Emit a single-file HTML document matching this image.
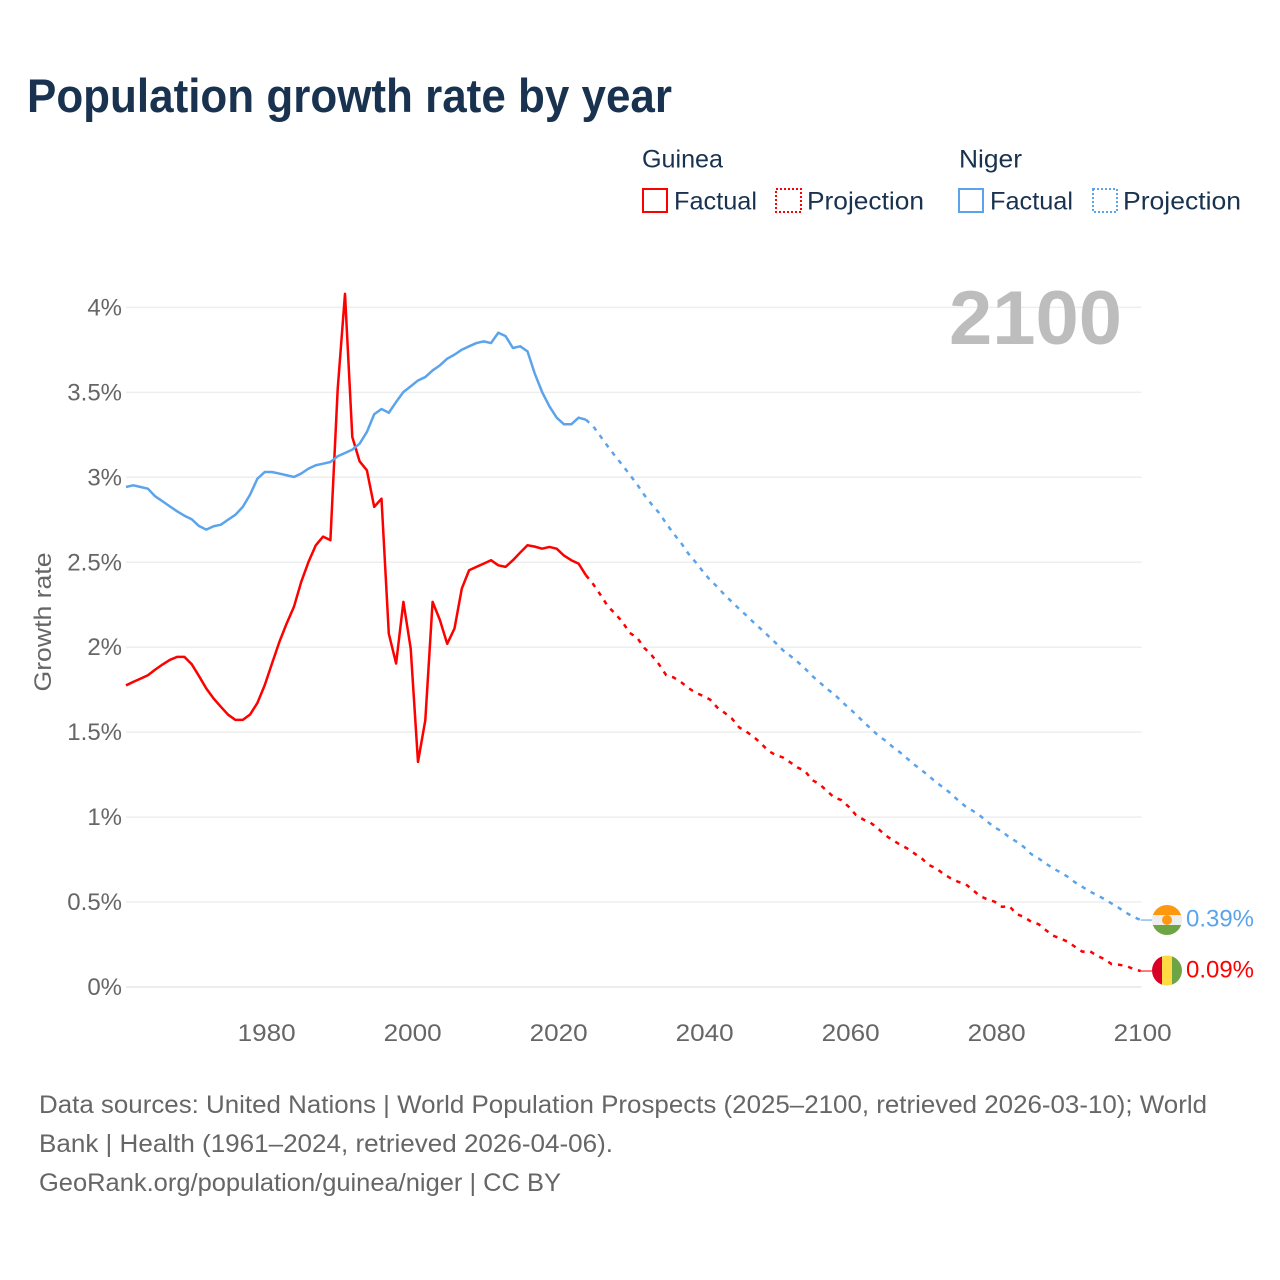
<!DOCTYPE html>
<html lang="en">
<head>
<meta charset="utf-8">
<title>Population growth rate by year</title>
<style>
html,body{margin:0;padding:0;background:#fff;}
svg{display:block;}
text{font-family:"Liberation Sans",sans-serif;}
</style>
</head>
<body>
<svg id="chart" xmlns="http://www.w3.org/2000/svg" width="1280" height="1280" viewBox="0 0 1280 1280">
  <rect x="0" y="0" width="1280" height="1280" fill="#ffffff"/>
  <text x="27" y="112" font-size="47" font-weight="700" fill="#18324f" textLength="645" lengthAdjust="spacingAndGlyphs">Population growth rate by year</text>

  <g font-size="25" fill="#18324f">
    <text x="642" y="167.5" textLength="81" lengthAdjust="spacingAndGlyphs">Guinea</text>
    <rect x="643" y="189" width="24" height="23" fill="none" stroke="#ff0000" stroke-width="2"/>
    <text x="674" y="209.5" textLength="83" lengthAdjust="spacingAndGlyphs">Factual</text>
    <rect x="776" y="189" width="25" height="23" fill="none" stroke="#ff0000" stroke-width="2" stroke-dasharray="2 2"/>
    <text x="807" y="209.5" textLength="117" lengthAdjust="spacingAndGlyphs">Projection</text>
    <text x="959" y="167.5" textLength="63" lengthAdjust="spacingAndGlyphs">Niger</text>
    <rect x="959" y="189" width="24" height="23" fill="none" stroke="#5ba4ec" stroke-width="2"/>
    <text x="990" y="209.5" textLength="83" lengthAdjust="spacingAndGlyphs">Factual</text>
    <rect x="1093" y="189" width="24" height="23" fill="none" stroke="#5ba4ec" stroke-width="2" stroke-dasharray="2 2"/>
    <text x="1123" y="209.5" textLength="118" lengthAdjust="spacingAndGlyphs">Projection</text>
  </g>

  <g id="grid"></g>
  <g id="yticks" font-size="24" fill="#666666" text-anchor="end"></g>
  <g id="xticks" font-size="24" fill="#666666" text-anchor="middle"></g>

  <text transform="translate(51,622) rotate(-90)" font-size="24" fill="#666666" text-anchor="middle" textLength="139" lengthAdjust="spacingAndGlyphs">Growth rate</text>
  <text x="949" y="344" font-size="76" font-weight="700" fill="#bdbdbd" textLength="173" lengthAdjust="spacingAndGlyphs">2100</text>

  <g id="series"></g>

  <g>
    <clipPath id="clip-niger"><circle cx="1167" cy="920" r="15"/></clipPath>
    <g clip-path="url(#clip-niger)">
      <rect x="1152" y="905" width="30" height="10" fill="#ff9811"/>
      <rect x="1152" y="915" width="30" height="10" fill="#eeeeee"/>
      <rect x="1152" y="925" width="30" height="10" fill="#6da544"/>
    </g>
    <circle cx="1167" cy="920" r="5" fill="#ff9811"/>
  </g>
  <g>
    <clipPath id="clip-guinea"><circle cx="1167" cy="970.5" r="15"/></clipPath>
    <g clip-path="url(#clip-guinea)">
      <rect x="1152" y="955" width="10" height="31" fill="#d80027"/>
      <rect x="1162" y="955" width="10" height="31" fill="#ffda44"/>
      <rect x="1172" y="955" width="10" height="31" fill="#6da544"/>
    </g>
  </g>
  <text id="label-niger" x="1186" y="926.5" font-size="24" fill="#5ba4ec" textLength="68" lengthAdjust="spacingAndGlyphs">0.39%</text>
  <text id="label-guinea" x="1186" y="977.5" font-size="24" fill="#ff0000" textLength="68" lengthAdjust="spacingAndGlyphs">0.09%</text>

  <g font-size="25" fill="#666666">
    <text x="39" y="1113" textLength="1168" lengthAdjust="spacingAndGlyphs">Data sources: United Nations | World Population Prospects (2025–2100, retrieved 2026-03-10); World</text>
    <text x="39" y="1152" textLength="574" lengthAdjust="spacingAndGlyphs">Bank | Health (1961–2024, retrieved 2026-04-06).</text>
    <text x="39" y="1191" textLength="522" lengthAdjust="spacingAndGlyphs">GeoRank.org/population/guinea/niger | CC BY</text>
  </g>
</svg>
<script>
const factualYears = [1961,1962,1963,1964,1965,1966,1967,1968,1969,1970,1971,1972,1973,1974,1975,1976,1977,1978,1979,1980,1981,1982,1983,1984,1985,1986,1987,1988,1989,1990,1991,1992,1993,1994,1995,1996,1997,1998,1999,2000,2001,2002,2003,2004,2005,2006,2007,2008,2009,2010,2011,2012,2013,2014,2015,2016,2017,2018,2019,2020,2021,2022,2023,2024];
const projectionYears = [2024,2025,2026,2027,2028,2029,2030,2031,2032,2033,2034,2035,2036,2037,2038,2039,2040,2041,2042,2043,2044,2045,2046,2047,2048,2049,2050,2051,2052,2053,2054,2055,2056,2057,2058,2059,2060,2061,2062,2063,2064,2065,2066,2067,2068,2069,2070,2071,2072,2073,2074,2075,2076,2077,2078,2079,2080,2081,2082,2083,2084,2085,2086,2087,2088,2089,2090,2091,2092,2093,2094,2095,2096,2097,2098,2099,2100];
const guineaFactual = [1.775,1.796,1.815,1.835,1.868,1.898,1.925,1.943,1.943,1.90,1.83,1.757,1.698,1.649,1.602,1.572,1.572,1.604,1.672,1.776,1.904,2.03,2.139,2.237,2.384,2.502,2.60,2.651,2.63,3.52,4.08,3.237,3.094,3.041,2.826,2.874,2.08,1.904,2.267,1.992,1.325,1.57,2.267,2.16,2.02,2.11,2.345,2.453,2.473,2.492,2.512,2.482,2.473,2.512,2.557,2.60,2.592,2.58,2.59,2.58,2.539,2.512,2.492,2.424];
const nigerFactual = [2.943,2.953,2.943,2.933,2.888,2.859,2.829,2.80,2.774,2.753,2.713,2.692,2.712,2.721,2.751,2.78,2.826,2.898,2.992,3.031,3.031,3.022,3.012,3.002,3.022,3.051,3.071,3.08,3.09,3.124,3.143,3.163,3.198,3.267,3.371,3.402,3.38,3.443,3.502,3.535,3.57,3.59,3.629,3.659,3.698,3.722,3.751,3.771,3.79,3.80,3.79,3.851,3.831,3.761,3.771,3.741,3.61,3.502,3.418,3.351,3.312,3.312,3.351,3.339];
const guineaProjection = [2.424,2.371,2.308,2.241,2.198,2.149,2.084,2.057,1.996,1.953,1.90,1.835,1.822,1.796,1.761,1.733,1.714,1.692,1.645,1.614,1.58,1.528,1.502,1.472,1.433,1.39,1.365,1.351,1.322,1.292,1.272,1.218,1.194,1.155,1.116,1.10,1.061,1.012,0.986,0.967,0.933,0.894,0.865,0.839,0.816,0.786,0.757,0.718,0.698,0.665,0.639,0.619,0.606,0.571,0.535,0.516,0.502,0.472,0.476,0.429,0.413,0.384,0.37,0.335,0.302,0.286,0.266,0.237,0.208,0.212,0.184,0.165,0.135,0.131,0.124,0.106,0.094];
const nigerProjection = [3.339,3.30,3.241,3.182,3.125,3.072,3.016,2.959,2.896,2.841,2.792,2.729,2.669,2.616,2.553,2.502,2.447,2.396,2.355,2.308,2.267,2.225,2.186,2.145,2.106,2.066,2.025,1.982,1.949,1.914,1.875,1.831,1.794,1.755,1.724,1.682,1.643,1.604,1.561,1.522,1.482,1.451,1.414,1.382,1.345,1.308,1.276,1.241,1.204,1.173,1.139,1.098,1.063,1.037,1.008,0.973,0.939,0.916,0.881,0.855,0.824,0.782,0.757,0.727,0.698,0.675,0.649,0.616,0.59,0.563,0.541,0.518,0.492,0.466,0.437,0.413,0.394];
const yTickValues = [0,0.5,1,1.5,2,2.5,3,3.5,4];
const yTickLabels = ["0%","0.5%","1%","1.5%","2%","2.5%","3%","3.5%","4%"];
const xTickValues = [1980,2000,2020,2040,2060,2080,2100];
const xTickLabels = ["1980","2000","2020","2040","2060","2080","2100"];

const NS = "http://www.w3.org/2000/svg";
function xScale(year){ return 126 + (year - 1961) * 7.3; }
function yScale(v){ return 987 - v * 169.9; }
function pathFor(years, values){
  return values.map(function(v,i){ return (i ? "L" : "M") + xScale(years[i]).toFixed(2) + " " + yScale(v).toFixed(2); }).join(" ");
}

const grid = document.getElementById("grid");
const yticks = document.getElementById("yticks");
yTickValues.forEach(function(v,i){
  const g = document.createElementNS(NS,"line");
  
  
  g.setAttribute("x1", 126);
  g.setAttribute("x2", 1141.5);
  g.setAttribute("y1", yScale(v));
  g.setAttribute("y2", yScale(v));
  g.setAttribute("stroke", i === 0 ? "#e6e6e6" : "#eeeeee");
  g.setAttribute("stroke-width", 1.5);
  grid.appendChild(g);
  const t = document.createElementNS(NS,"text");
  
  
  t.setAttribute("x", 122);
  t.setAttribute("y", yScale(v) + 8);
  t.textContent = yTickLabels[i];
  yticks.appendChild(t);
});

const xticks = document.getElementById("xticks");
xTickValues.forEach(function(v,i){
  const t = document.createElementNS(NS,"text");
  
  
  t.setAttribute("x", xScale(v) + 2);
  t.setAttribute("y", 1041);
  t.setAttribute("textLength", 58);
  t.setAttribute("lengthAdjust", "spacingAndGlyphs");
  t.textContent = xTickLabels[i];
  xticks.appendChild(t);
});

const series = document.getElementById("series");

const guineaFactualLine = document.createElementNS(NS,"path");


guineaFactualLine.setAttribute("d", pathFor(factualYears, guineaFactual));
guineaFactualLine.setAttribute("fill", "none");
guineaFactualLine.setAttribute("stroke", "#ff0000");
guineaFactualLine.setAttribute("stroke-width", 2.5);
guineaFactualLine.setAttribute("stroke-linejoin", "round");
series.appendChild(guineaFactualLine);

const guineaProjectionLine = document.createElementNS(NS,"path");


guineaProjectionLine.setAttribute("d", pathFor(projectionYears, guineaProjection));
guineaProjectionLine.setAttribute("fill", "none");
guineaProjectionLine.setAttribute("stroke", "#ff0000");
guineaProjectionLine.setAttribute("stroke-width", 2.5);
guineaProjectionLine.setAttribute("stroke-dasharray", "4.5 5.9");
series.appendChild(guineaProjectionLine);

const nigerFactualLine = document.createElementNS(NS,"path");


nigerFactualLine.setAttribute("d", pathFor(factualYears, nigerFactual));
nigerFactualLine.setAttribute("fill", "none");
nigerFactualLine.setAttribute("stroke", "#5ba4ec");
nigerFactualLine.setAttribute("stroke-width", 2.5);
nigerFactualLine.setAttribute("stroke-linejoin", "round");
series.appendChild(nigerFactualLine);

const nigerProjectionLine = document.createElementNS(NS,"path");


nigerProjectionLine.setAttribute("d", pathFor(projectionYears, nigerProjection));
nigerProjectionLine.setAttribute("fill", "none");
nigerProjectionLine.setAttribute("stroke", "#5ba4ec");
nigerProjectionLine.setAttribute("stroke-width", 2.5);
nigerProjectionLine.setAttribute("stroke-dasharray", "4.5 5.9");
series.appendChild(nigerProjectionLine);

const guineaConnector = document.createElementNS(NS,"line");


guineaConnector.setAttribute("x1", xScale(2100));
guineaConnector.setAttribute("x2", 1152);
guineaConnector.setAttribute("y1", yScale(guineaProjection[guineaProjection.length - 1]));
guineaConnector.setAttribute("y2", yScale(guineaProjection[guineaProjection.length - 1]));
guineaConnector.setAttribute("stroke", "#ff0000");
guineaConnector.setAttribute("stroke-opacity", 0.7);
guineaConnector.setAttribute("stroke-width", 1.5);
series.appendChild(guineaConnector);

const nigerConnector = document.createElementNS(NS,"line");


nigerConnector.setAttribute("x1", xScale(2100));
nigerConnector.setAttribute("x2", 1152);
nigerConnector.setAttribute("y1", yScale(nigerProjection[nigerProjection.length - 1]));
nigerConnector.setAttribute("y2", yScale(nigerProjection[nigerProjection.length - 1]));
nigerConnector.setAttribute("stroke", "#5ba4ec");
nigerConnector.setAttribute("stroke-opacity", 0.7);
nigerConnector.setAttribute("stroke-width", 1.5);
series.appendChild(nigerConnector);
</script>
</body>
</html>
